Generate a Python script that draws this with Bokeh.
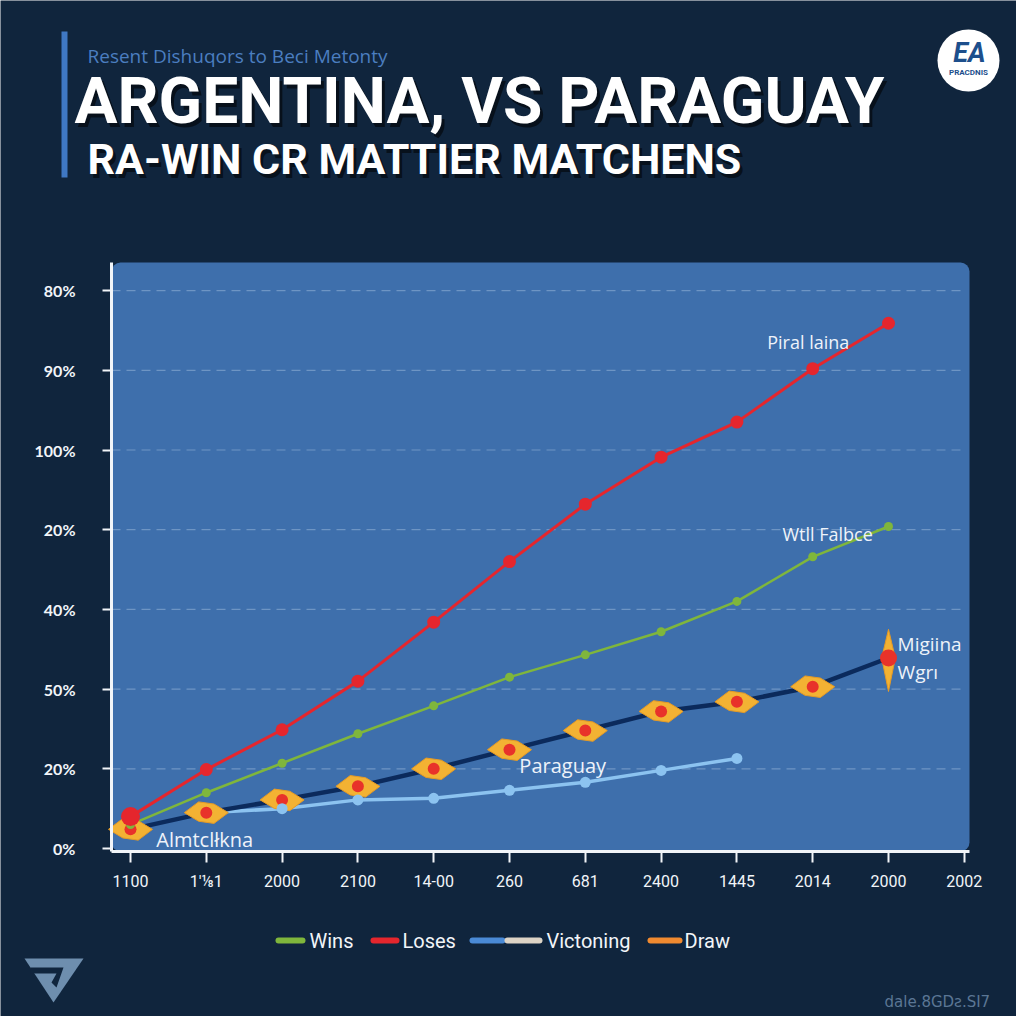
from bokeh.plotting import figure
from bokeh.models import Range1d, FixedTicker, BoxAnnotation, Label
from bokeh.core.properties import value
from bokeh.embed import file_html
from bokeh.resources import INLINE

# ---------------- data ----------------
x_labels = ["1100", "1'\u215b1", "2000", "2100", "14-00", "260", "681", "2400", "1445", "2014", "2000", "2002"]
y_labels = ["0%", "20%", "50%", "40%", "20%", "100%", "90%", "80%"]
loses = [0.40, 0.99, 1.49, 2.10, 2.84, 3.60, 4.32, 4.91, 5.35, 6.02, 6.59]
wins = [0.30, 0.70, 1.07, 1.44, 1.79, 2.15, 2.43, 2.72, 3.10, 3.66, 4.04]
draw = [0.24, 0.45, 0.61, 0.78, 1.00, 1.24, 1.48, 1.72, 1.84, 2.03, 2.39]
paraguay = [0.45, 0.50, 0.61, 0.63, 0.73, 0.83, 0.98, 1.13]
paraguay_start = 1

BG = "#10253d"
PANEL = "#3e6fac"
WHITE = "#f2f5f9"

idx = list(range(len(loses)))
par_x = [paraguay_start + i for i in range(len(paraguay))]

# ---------------- page geometry (picture pixels) ----------------
S = 1016          # figure size
OFF = 1           # picture offset of the figure
X0, PXX = 131, 75.8   # pixel of x=0, pixels per x unit
Y0, PXY = 849, 79.7   # pixel of y=0, pixels per y unit
FL, FR, FT, FB = 112, 970, 263, 852   # chart panel


def gx(X):
    return (X - X0) / PXX


def gy(Y):
    return (Y0 - Y) / PXY


p = figure(width=S, height=S,
           x_range=Range1d(gx(OFF), gx(OFF + S)), y_range=Range1d(gy(OFF + S), gy(OFF)),
           toolbar_location=None, output_backend="svg", min_border=0,
           min_border_left=0, min_border_right=0, min_border_top=0, min_border_bottom=0,
           background_fill_color=BG, border_fill_color=BG, outline_line_color=None)
p.grid.visible = False

# chart panel
p.add_layout(BoxAnnotation(left=gx(FL), right=gx(FR), bottom=gy(FB), top=gy(FT), level="underlay",
                           fill_color=PANEL, fill_alpha=1.0, line_color=None, border_radius=9))

# axes fixed at the panel edges
yt = list(range(len(y_labels)))
xt = list(range(len(x_labels)))
p.yaxis.ticker = FixedTicker(ticks=yt)
p.yaxis.major_label_overrides = {i: s for i, s in enumerate(y_labels)}
p.xaxis.ticker = FixedTicker(ticks=xt)
p.xaxis.major_label_overrides = {i: s for i, s in enumerate(x_labels)}
p.yaxis.fixed_location = gx(FL)
p.yaxis.bounds = (gy(FB), gy(FT))
p.xaxis.fixed_location = gy(FB)
p.xaxis.bounds = (gx(FL), gx(FR))
for ax in (p.xaxis, p.yaxis):
    ax.axis_line_color = WHITE
    ax.axis_line_width = 3
    ax.major_tick_line_color = WHITE
    ax.major_tick_line_width = 2
    ax.major_tick_in = 0
    ax.minor_tick_line_color = None
    ax.major_label_text_color = WHITE
p.yaxis.major_tick_out = 9
p.yaxis.major_label_standoff = 27
p.yaxis.major_label_text_font = "Lato"
p.yaxis.major_label_text_font_style = "bold"
p.yaxis.major_label_text_font_size = "16px"
p.xaxis.major_tick_out = 11
p.xaxis.major_label_standoff = 9
p.xaxis.major_label_text_font = "Roboto"
p.xaxis.major_label_text_font_size = "16px"

# horizontal dashed grid
gt = yt[1:]
p.segment(x0=[gx(FL)] * len(gt), x1=[gx(FR - 5)] * len(gt), y0=gt, y1=gt,
          line_color="#a9c3e3", line_alpha=0.45, line_dash="9 6", line_width=1.2)

# lines
p.line(idx, wins, line_color="#7fb63c", line_width=2.5)
p.line(idx, loses, line_color="#e5262d", line_width=3)
p.line(par_x, paraguay, line_color="#8cc3f0", line_width=3.5)
p.line(idx, draw, line_color="#0b2a5c", line_width=4.5)

# draw markers: elongated hexagons with red centres
w, h = 0.29, 0.135
hx, hy = [], []
for xi, yi in zip(idx[:-1], draw[:-1]):
    hx.append([xi - w, xi - 0.35 * w, xi + 0.35 * w, xi + w, xi + 0.35 * w, xi - 0.35 * w])
    hy.append([yi, yi + h, yi + h * 0.8, yi, yi - h, yi - h * 0.8])
p.patches(hx, hy, fill_color="#f3b233", line_color="#e59a25", line_width=1)
xl, yl = idx[-1], draw[-1]
p.patch([xl - 0.09, xl, xl + 0.09, xl], [yl, yl + 0.36, yl, yl - 0.42], fill_color="#f3b233",
        line_color="#e59a25")
p.scatter(idx[:-1], draw[:-1], size=12, marker="circle", fill_color="#e8322a", line_color=None)
p.scatter([xl], [yl], size=17, marker="circle", fill_color="#e8322a", line_color=None)

p.scatter(par_x[1:], paraguay[1:], size=11, fill_color="#8cc3f0", line_color=None)
p.scatter(idx, wins, size=9, fill_color="#7fb63c", line_color=None)
p.scatter(idx[1:], loses[1:], size=13, fill_color="#e5262d", line_color=None)
p.scatter(idx[:1], loses[:1], size=19, fill_color="#e5262d", line_color=None)

# in-chart annotations
ann = [("Piral laina", 8.40, 6.35, "18px"), ("Wtll Falbce", 8.60, 3.94, "18px"),
       ("Migiina", 10.12, 2.57, "19px"), ("Wgr\u0131", 10.12, 2.22, "19px"),
       ("Paraguay", 5.13, 1.04, "20px"), ("Almtcl\u0142kna", 0.34, 0.11, "20px")]
for t, ax_, ay_, fs in ann:
    p.add_layout(Label(x=ax_, y=ay_, text=t, text_color="#eef3fa", text_font="Open Sans",
                       text_font_size=fs, text_baseline="middle", text_align="left"))


# ---------------- header / footer decorations (pixel positions) ----------------
def ptext(X, Y, t, font="Roboto", size="16px", color=WHITE, style="normal", align="left",
          baseline="middle", alpha=1.0):
    p.text(x=[gx(X)], y=[gy(Y)], text=[t], text_font=value(font), text_font_size=size,
           text_color=color, text_font_style=style, text_align=align, text_baseline=baseline,
           text_alpha=alpha)


p.quad(left=[gx(62)], right=[gx(68)], top=[gy(32)], bottom=[gy(178)], fill_color="#3f78c4",
       line_color=None)
ptext(88, 56, "Resent Dishuqors to Beci Metonty", font="Open Sans", size="19px", color="#4b7ec0",
      baseline="alphabetic")
for dx, dy, col, a in [(3, 4, "#000000", 0.55), (0, 0, "#ffffff", 1.0)]:
    ptext(75 + dx, 102 + dy, "ARGENTINA, VS PARAGUAY", size="64px", style="bold", color=col,
          alpha=a, baseline="alphabetic")
    ptext(88 + dx, 159 + dy, "RA-WIN CR MATTIER MATCHENS", size="43px", style="bold", color=col,
          alpha=a, baseline="alphabetic")

# EA logo
p.scatter([gx(969)], [gy(61)], size=62, marker="circle", fill_color="white", line_color=None)
ptext(970, 53, "EA", size="27px", style="bold italic", color="#1d4f8c", align="center")
ptext(969, 73, "PRACDNIS", size="8px", style="bold", color="#1d4f8c", align="center")

# legend
leg = [([(279, 303, "#7fb63c")], 310, "Wins"),
       ([(374, 397, "#e5262d")], 403, "Loses"),
       ([(473, 503, "#4a8ad6"), (508, 540, "#ddd4c6")], 547, "Victoning"),
       ([(651, 680, "#f08a30")], 685, "Draw")]
for segs, tx, lab in leg:
    for a0, a1, c in segs:
        p.segment(x0=[gx(a0)], x1=[gx(a1)], y0=[gy(941)], y1=[gy(941)], line_color=c,
                  line_width=6, line_cap="round")
    ptext(tx, 941, lab, size="20px")

# bottom-left logo and footer text
p.patch([gx(v) for v in (25, 84, 54)], [gy(v) for v in (959, 959, 1003)], fill_color="#6e8eae",
        line_color=None)
p.patch([gx(v) for v in (31, 64, 57, 52, 57, 31)], [gy(v) for v in (968, 968, 988, 983, 974, 974)],
        fill_color=BG, line_color=None)
ptext(885, 1002, "dale.8GD\u01a8.SI7", font="DejaVu Sans", size="15px", color="#5b7694")

open("out.html", "w").write(file_html(p, INLINE))
